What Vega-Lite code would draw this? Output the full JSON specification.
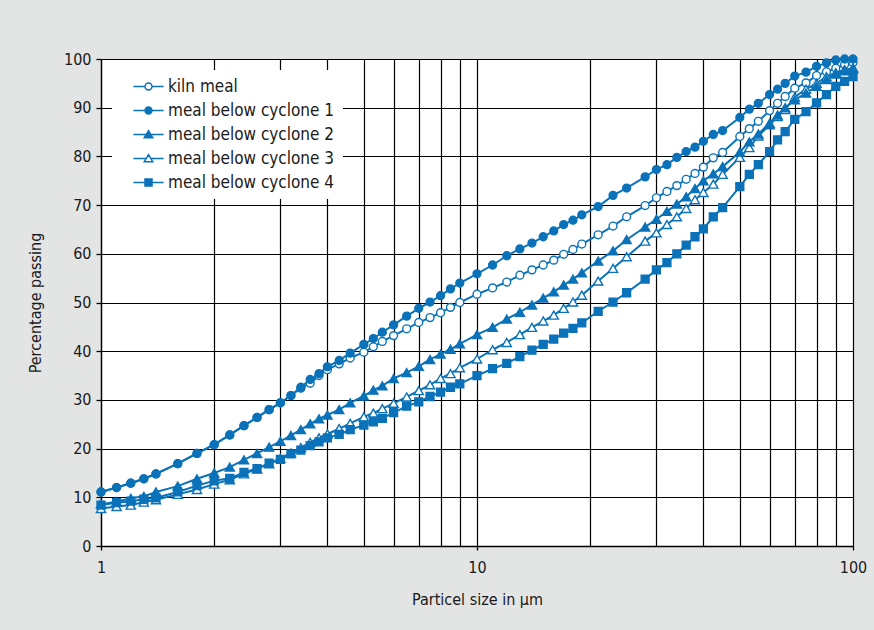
{
  "$schema": "https://vega.github.io/schema/vega-lite/v6.json",
  "width": 752,
  "height": 487,
  "autosize": {"type": "none"},
  "padding": {"left": 101, "top": 59, "right": 21, "bottom": 84},
  "background": "#e3e4e4",
  "config": {
    "view": {"fill": "white", "stroke": null},
    "font": "DejaVu Sans Condensed, sans-serif",
    "axis": {
      "domainColor": "#000000",
      "domainWidth": 1.3,
      "gridColor": "#000000",
      "gridWidth": 1.2,
      "gridOpacity": 1,
      "tickColor": "#000000",
      "tickWidth": 1.3,
      "labelColor": "#1a1a1a",
      "labelFontSize": 16,
      "titleColor": "#1a1a1a",
      "titleFontSize": 16,
      "titleFontWeight": "normal",
      "labelFont": "DejaVu Sans Condensed, sans-serif",
      "titleFont": "DejaVu Sans Condensed, sans-serif"
    },
    "legend": {
      "title": null,
      "orient": "none",
      "legendX": 11,
      "legendY": 11,
      "fillColor": "white",
      "padding": 8,
      "labelFontSize": 17,
      "labelLimit": 400,
      "labelColor": "#1a1a1a",
      "labelFont": "DejaVu Sans Condensed, sans-serif",
      "symbolStrokeColor": "#0a72b9",
      "symbolStrokeWidth": 1.5,
      "symbolSize": 49,
      "symbolOffset": 20,
      "labelOffset": 11,
      "rowPadding": 6
    }
  },
  "datasets": {
    "rows": [
      {"series": "kiln meal", "size": 1, "pct": 11.1},
      {"series": "kiln meal", "size": 1.1, "pct": 12.0},
      {"series": "kiln meal", "size": 1.2, "pct": 12.9},
      {"series": "kiln meal", "size": 1.3, "pct": 13.8},
      {"series": "kiln meal", "size": 1.4, "pct": 14.8},
      {"series": "kiln meal", "size": 1.6, "pct": 16.9},
      {"series": "kiln meal", "size": 1.8, "pct": 19.0},
      {"series": "kiln meal", "size": 2, "pct": 20.8},
      {"series": "kiln meal", "size": 2.2, "pct": 22.8},
      {"series": "kiln meal", "size": 2.4, "pct": 24.7},
      {"series": "kiln meal", "size": 2.6, "pct": 26.4},
      {"series": "kiln meal", "size": 2.8, "pct": 28.0},
      {"series": "kiln meal", "size": 3, "pct": 29.4},
      {"series": "kiln meal", "size": 3.2, "pct": 30.9},
      {"series": "kiln meal", "size": 3.4, "pct": 32.4},
      {"series": "kiln meal", "size": 3.6, "pct": 33.4},
      {"series": "kiln meal", "size": 3.8, "pct": 35.0},
      {"series": "kiln meal", "size": 4, "pct": 36.2},
      {"series": "kiln meal", "size": 4.3, "pct": 37.4},
      {"series": "kiln meal", "size": 4.6, "pct": 38.6},
      {"series": "kiln meal", "size": 5, "pct": 39.8},
      {"series": "kiln meal", "size": 5.3, "pct": 40.9},
      {"series": "kiln meal", "size": 5.6, "pct": 42.0},
      {"series": "kiln meal", "size": 6, "pct": 43.2},
      {"series": "kiln meal", "size": 6.5, "pct": 44.6},
      {"series": "kiln meal", "size": 7, "pct": 45.9},
      {"series": "kiln meal", "size": 7.5, "pct": 46.9},
      {"series": "kiln meal", "size": 8, "pct": 47.9},
      {"series": "kiln meal", "size": 8.5, "pct": 49.0},
      {"series": "kiln meal", "size": 9, "pct": 50.0},
      {"series": "kiln meal", "size": 10, "pct": 51.7},
      {"series": "kiln meal", "size": 11, "pct": 53.0},
      {"series": "kiln meal", "size": 12, "pct": 54.2},
      {"series": "kiln meal", "size": 13, "pct": 55.6},
      {"series": "kiln meal", "size": 14, "pct": 56.7},
      {"series": "kiln meal", "size": 15, "pct": 57.7},
      {"series": "kiln meal", "size": 16, "pct": 58.7},
      {"series": "kiln meal", "size": 17, "pct": 59.9},
      {"series": "kiln meal", "size": 18, "pct": 60.9},
      {"series": "kiln meal", "size": 19, "pct": 62.0},
      {"series": "kiln meal", "size": 21, "pct": 63.9},
      {"series": "kiln meal", "size": 23, "pct": 65.7},
      {"series": "kiln meal", "size": 25, "pct": 67.6},
      {"series": "kiln meal", "size": 28, "pct": 69.9},
      {"series": "kiln meal", "size": 30, "pct": 71.5},
      {"series": "kiln meal", "size": 32, "pct": 72.8},
      {"series": "kiln meal", "size": 34, "pct": 74.0},
      {"series": "kiln meal", "size": 36, "pct": 75.3},
      {"series": "kiln meal", "size": 38, "pct": 76.5},
      {"series": "kiln meal", "size": 40, "pct": 77.8},
      {"series": "kiln meal", "size": 42.5, "pct": 79.7},
      {"series": "kiln meal", "size": 45, "pct": 80.8},
      {"series": "kiln meal", "size": 50, "pct": 84.1},
      {"series": "kiln meal", "size": 53, "pct": 85.7},
      {"series": "kiln meal", "size": 56, "pct": 87.2},
      {"series": "kiln meal", "size": 60, "pct": 89.4},
      {"series": "kiln meal", "size": 63, "pct": 90.9},
      {"series": "kiln meal", "size": 66, "pct": 92.3},
      {"series": "kiln meal", "size": 70, "pct": 94.0},
      {"series": "kiln meal", "size": 75, "pct": 95.1},
      {"series": "kiln meal", "size": 80, "pct": 96.6},
      {"series": "kiln meal", "size": 85, "pct": 97.4},
      {"series": "kiln meal", "size": 90, "pct": 98.1},
      {"series": "kiln meal", "size": 95, "pct": 98.9},
      {"series": "kiln meal", "size": 100, "pct": 99.3},

      {"series": "meal below cyclone 4", "size": 1, "pct": 8.4},
      {"series": "meal below cyclone 4", "size": 1.1, "pct": 8.9},
      {"series": "meal below cyclone 4", "size": 1.2, "pct": 9.2},
      {"series": "meal below cyclone 4", "size": 1.3, "pct": 9.6},
      {"series": "meal below cyclone 4", "size": 1.4, "pct": 9.9},
      {"series": "meal below cyclone 4", "size": 1.6, "pct": 11.1},
      {"series": "meal below cyclone 4", "size": 1.8, "pct": 12.4},
      {"series": "meal below cyclone 4", "size": 2, "pct": 13.4},
      {"series": "meal below cyclone 4", "size": 2.2, "pct": 13.9},
      {"series": "meal below cyclone 4", "size": 2.4, "pct": 15.1},
      {"series": "meal below cyclone 4", "size": 2.6, "pct": 15.9},
      {"series": "meal below cyclone 4", "size": 2.8, "pct": 17.0},
      {"series": "meal below cyclone 4", "size": 3, "pct": 17.8},
      {"series": "meal below cyclone 4", "size": 3.2, "pct": 18.9},
      {"series": "meal below cyclone 4", "size": 3.4, "pct": 19.7},
      {"series": "meal below cyclone 4", "size": 3.6, "pct": 20.6},
      {"series": "meal below cyclone 4", "size": 3.8, "pct": 21.4},
      {"series": "meal below cyclone 4", "size": 4, "pct": 22.2},
      {"series": "meal below cyclone 4", "size": 4.3, "pct": 22.9},
      {"series": "meal below cyclone 4", "size": 4.6, "pct": 23.9},
      {"series": "meal below cyclone 4", "size": 5, "pct": 24.8},
      {"series": "meal below cyclone 4", "size": 5.3, "pct": 25.5},
      {"series": "meal below cyclone 4", "size": 5.6, "pct": 26.2},
      {"series": "meal below cyclone 4", "size": 6, "pct": 27.4},
      {"series": "meal below cyclone 4", "size": 6.5, "pct": 28.7},
      {"series": "meal below cyclone 4", "size": 7, "pct": 29.6},
      {"series": "meal below cyclone 4", "size": 7.5, "pct": 30.7},
      {"series": "meal below cyclone 4", "size": 8, "pct": 31.6},
      {"series": "meal below cyclone 4", "size": 8.5, "pct": 32.6},
      {"series": "meal below cyclone 4", "size": 9, "pct": 33.3},
      {"series": "meal below cyclone 4", "size": 10, "pct": 35.0},
      {"series": "meal below cyclone 4", "size": 11, "pct": 36.4},
      {"series": "meal below cyclone 4", "size": 12, "pct": 37.5},
      {"series": "meal below cyclone 4", "size": 13, "pct": 38.9},
      {"series": "meal below cyclone 4", "size": 14, "pct": 40.2},
      {"series": "meal below cyclone 4", "size": 15, "pct": 41.4},
      {"series": "meal below cyclone 4", "size": 16, "pct": 42.5},
      {"series": "meal below cyclone 4", "size": 17, "pct": 43.7},
      {"series": "meal below cyclone 4", "size": 18, "pct": 44.7},
      {"series": "meal below cyclone 4", "size": 19, "pct": 45.8},
      {"series": "meal below cyclone 4", "size": 21, "pct": 48.2},
      {"series": "meal below cyclone 4", "size": 23, "pct": 50.1},
      {"series": "meal below cyclone 4", "size": 25, "pct": 52.0},
      {"series": "meal below cyclone 4", "size": 28, "pct": 54.8},
      {"series": "meal below cyclone 4", "size": 30, "pct": 56.7},
      {"series": "meal below cyclone 4", "size": 32, "pct": 58.2},
      {"series": "meal below cyclone 4", "size": 34, "pct": 60.0},
      {"series": "meal below cyclone 4", "size": 36, "pct": 61.8},
      {"series": "meal below cyclone 4", "size": 38, "pct": 63.5},
      {"series": "meal below cyclone 4", "size": 40, "pct": 65.1},
      {"series": "meal below cyclone 4", "size": 42.5, "pct": 67.6},
      {"series": "meal below cyclone 4", "size": 45, "pct": 69.5},
      {"series": "meal below cyclone 4", "size": 50, "pct": 73.8},
      {"series": "meal below cyclone 4", "size": 53, "pct": 76.3},
      {"series": "meal below cyclone 4", "size": 56, "pct": 78.3},
      {"series": "meal below cyclone 4", "size": 60, "pct": 81.0},
      {"series": "meal below cyclone 4", "size": 63, "pct": 83.4},
      {"series": "meal below cyclone 4", "size": 66, "pct": 85.1},
      {"series": "meal below cyclone 4", "size": 70, "pct": 87.6},
      {"series": "meal below cyclone 4", "size": 75, "pct": 89.2},
      {"series": "meal below cyclone 4", "size": 80, "pct": 91.0},
      {"series": "meal below cyclone 4", "size": 85, "pct": 92.7},
      {"series": "meal below cyclone 4", "size": 90, "pct": 94.4},
      {"series": "meal below cyclone 4", "size": 95, "pct": 95.4},
      {"series": "meal below cyclone 4", "size": 100, "pct": 96.4},

      {"series": "meal below cyclone 3", "size": 1, "pct": 7.7},
      {"series": "meal below cyclone 3", "size": 1.1, "pct": 8.1},
      {"series": "meal below cyclone 3", "size": 1.2, "pct": 8.4},
      {"series": "meal below cyclone 3", "size": 1.3, "pct": 9.0},
      {"series": "meal below cyclone 3", "size": 1.4, "pct": 9.5},
      {"series": "meal below cyclone 3", "size": 1.6, "pct": 10.6},
      {"series": "meal below cyclone 3", "size": 1.8, "pct": 11.6},
      {"series": "meal below cyclone 3", "size": 2, "pct": 12.7},
      {"series": "meal below cyclone 3", "size": 2.2, "pct": 13.6},
      {"series": "meal below cyclone 3", "size": 2.4, "pct": 14.8},
      {"series": "meal below cyclone 3", "size": 2.6, "pct": 15.8},
      {"series": "meal below cyclone 3", "size": 2.8, "pct": 16.9},
      {"series": "meal below cyclone 3", "size": 3, "pct": 18.0},
      {"series": "meal below cyclone 3", "size": 3.2, "pct": 19.1},
      {"series": "meal below cyclone 3", "size": 3.4, "pct": 20.2},
      {"series": "meal below cyclone 3", "size": 3.6, "pct": 21.3},
      {"series": "meal below cyclone 3", "size": 3.8, "pct": 22.2},
      {"series": "meal below cyclone 3", "size": 4, "pct": 23.0},
      {"series": "meal below cyclone 3", "size": 4.3, "pct": 24.1},
      {"series": "meal below cyclone 3", "size": 4.6, "pct": 25.2},
      {"series": "meal below cyclone 3", "size": 5, "pct": 26.5},
      {"series": "meal below cyclone 3", "size": 5.3, "pct": 27.3},
      {"series": "meal below cyclone 3", "size": 5.6, "pct": 28.2},
      {"series": "meal below cyclone 3", "size": 6, "pct": 29.3},
      {"series": "meal below cyclone 3", "size": 6.5, "pct": 30.6},
      {"series": "meal below cyclone 3", "size": 7, "pct": 31.9},
      {"series": "meal below cyclone 3", "size": 7.5, "pct": 33.1},
      {"series": "meal below cyclone 3", "size": 8, "pct": 34.4},
      {"series": "meal below cyclone 3", "size": 8.5, "pct": 35.4},
      {"series": "meal below cyclone 3", "size": 9, "pct": 36.6},
      {"series": "meal below cyclone 3", "size": 10, "pct": 38.4},
      {"series": "meal below cyclone 3", "size": 11, "pct": 40.3},
      {"series": "meal below cyclone 3", "size": 12, "pct": 41.8},
      {"series": "meal below cyclone 3", "size": 13, "pct": 43.4},
      {"series": "meal below cyclone 3", "size": 14, "pct": 44.9},
      {"series": "meal below cyclone 3", "size": 15, "pct": 46.2},
      {"series": "meal below cyclone 3", "size": 16, "pct": 47.4},
      {"series": "meal below cyclone 3", "size": 17, "pct": 48.8},
      {"series": "meal below cyclone 3", "size": 18, "pct": 50.1},
      {"series": "meal below cyclone 3", "size": 19, "pct": 51.5},
      {"series": "meal below cyclone 3", "size": 21, "pct": 54.4},
      {"series": "meal below cyclone 3", "size": 23, "pct": 57.0},
      {"series": "meal below cyclone 3", "size": 25, "pct": 59.4},
      {"series": "meal below cyclone 3", "size": 28, "pct": 62.6},
      {"series": "meal below cyclone 3", "size": 30, "pct": 64.3},
      {"series": "meal below cyclone 3", "size": 32, "pct": 66.0},
      {"series": "meal below cyclone 3", "size": 34, "pct": 67.6},
      {"series": "meal below cyclone 3", "size": 36, "pct": 69.3},
      {"series": "meal below cyclone 3", "size": 38, "pct": 71.1},
      {"series": "meal below cyclone 3", "size": 40, "pct": 72.6},
      {"series": "meal below cyclone 3", "size": 42.5, "pct": 74.3},
      {"series": "meal below cyclone 3", "size": 45, "pct": 76.3},
      {"series": "meal below cyclone 3", "size": 50, "pct": 79.8},
      {"series": "meal below cyclone 3", "size": 53, "pct": 81.8},
      {"series": "meal below cyclone 3", "size": 56, "pct": 84.2},
      {"series": "meal below cyclone 3", "size": 60, "pct": 86.5},
      {"series": "meal below cyclone 3", "size": 63, "pct": 88.2},
      {"series": "meal below cyclone 3", "size": 66, "pct": 89.6},
      {"series": "meal below cyclone 3", "size": 70, "pct": 92.2},
      {"series": "meal below cyclone 3", "size": 75, "pct": 93.8},
      {"series": "meal below cyclone 3", "size": 80, "pct": 95.0},
      {"series": "meal below cyclone 3", "size": 85, "pct": 96.4},
      {"series": "meal below cyclone 3", "size": 90, "pct": 97.2},
      {"series": "meal below cyclone 3", "size": 95, "pct": 97.8},
      {"series": "meal below cyclone 3", "size": 100, "pct": 98.0},

      {"series": "meal below cyclone 2", "size": 1, "pct": 8.6},
      {"series": "meal below cyclone 2", "size": 1.1, "pct": 9.1},
      {"series": "meal below cyclone 2", "size": 1.2, "pct": 9.8},
      {"series": "meal below cyclone 2", "size": 1.3, "pct": 10.2},
      {"series": "meal below cyclone 2", "size": 1.4, "pct": 11.1},
      {"series": "meal below cyclone 2", "size": 1.6, "pct": 12.3},
      {"series": "meal below cyclone 2", "size": 1.8, "pct": 13.8},
      {"series": "meal below cyclone 2", "size": 2, "pct": 15.0},
      {"series": "meal below cyclone 2", "size": 2.2, "pct": 16.2},
      {"series": "meal below cyclone 2", "size": 2.4, "pct": 17.7},
      {"series": "meal below cyclone 2", "size": 2.6, "pct": 19.0},
      {"series": "meal below cyclone 2", "size": 2.8, "pct": 20.3},
      {"series": "meal below cyclone 2", "size": 3, "pct": 21.5},
      {"series": "meal below cyclone 2", "size": 3.2, "pct": 22.7},
      {"series": "meal below cyclone 2", "size": 3.4, "pct": 23.9},
      {"series": "meal below cyclone 2", "size": 3.6, "pct": 25.1},
      {"series": "meal below cyclone 2", "size": 3.8, "pct": 26.1},
      {"series": "meal below cyclone 2", "size": 4, "pct": 26.9},
      {"series": "meal below cyclone 2", "size": 4.3, "pct": 28.0},
      {"series": "meal below cyclone 2", "size": 4.6, "pct": 29.4},
      {"series": "meal below cyclone 2", "size": 5, "pct": 30.8},
      {"series": "meal below cyclone 2", "size": 5.3, "pct": 32.0},
      {"series": "meal below cyclone 2", "size": 5.6, "pct": 32.9},
      {"series": "meal below cyclone 2", "size": 6, "pct": 34.4},
      {"series": "meal below cyclone 2", "size": 6.5, "pct": 35.6},
      {"series": "meal below cyclone 2", "size": 7, "pct": 36.9},
      {"series": "meal below cyclone 2", "size": 7.5, "pct": 38.3},
      {"series": "meal below cyclone 2", "size": 8, "pct": 39.4},
      {"series": "meal below cyclone 2", "size": 8.5, "pct": 40.4},
      {"series": "meal below cyclone 2", "size": 9, "pct": 41.5},
      {"series": "meal below cyclone 2", "size": 10, "pct": 43.4},
      {"series": "meal below cyclone 2", "size": 11, "pct": 44.9},
      {"series": "meal below cyclone 2", "size": 12, "pct": 46.6},
      {"series": "meal below cyclone 2", "size": 13, "pct": 48.0},
      {"series": "meal below cyclone 2", "size": 14, "pct": 49.5},
      {"series": "meal below cyclone 2", "size": 15, "pct": 50.9},
      {"series": "meal below cyclone 2", "size": 16, "pct": 52.2},
      {"series": "meal below cyclone 2", "size": 17, "pct": 53.6},
      {"series": "meal below cyclone 2", "size": 18, "pct": 54.8},
      {"series": "meal below cyclone 2", "size": 19, "pct": 56.1},
      {"series": "meal below cyclone 2", "size": 21, "pct": 58.5},
      {"series": "meal below cyclone 2", "size": 23, "pct": 60.6},
      {"series": "meal below cyclone 2", "size": 25, "pct": 62.9},
      {"series": "meal below cyclone 2", "size": 28, "pct": 65.5},
      {"series": "meal below cyclone 2", "size": 30, "pct": 67.1},
      {"series": "meal below cyclone 2", "size": 32, "pct": 68.7},
      {"series": "meal below cyclone 2", "size": 34, "pct": 70.2},
      {"series": "meal below cyclone 2", "size": 36, "pct": 71.7},
      {"series": "meal below cyclone 2", "size": 38, "pct": 73.4},
      {"series": "meal below cyclone 2", "size": 40, "pct": 75.0},
      {"series": "meal below cyclone 2", "size": 42.5, "pct": 76.4},
      {"series": "meal below cyclone 2", "size": 45, "pct": 77.9},
      {"series": "meal below cyclone 2", "size": 50, "pct": 80.9},
      {"series": "meal below cyclone 2", "size": 53, "pct": 83.0},
      {"series": "meal below cyclone 2", "size": 56, "pct": 84.6},
      {"series": "meal below cyclone 2", "size": 60, "pct": 86.8},
      {"series": "meal below cyclone 2", "size": 63, "pct": 88.5},
      {"series": "meal below cyclone 2", "size": 66, "pct": 90.0},
      {"series": "meal below cyclone 2", "size": 70, "pct": 91.6},
      {"series": "meal below cyclone 2", "size": 75, "pct": 93.0},
      {"series": "meal below cyclone 2", "size": 80, "pct": 94.4},
      {"series": "meal below cyclone 2", "size": 85, "pct": 95.8},
      {"series": "meal below cyclone 2", "size": 90, "pct": 96.9},
      {"series": "meal below cyclone 2", "size": 95, "pct": 97.6},
      {"series": "meal below cyclone 2", "size": 100, "pct": 98.2},

      {"series": "meal below cyclone 1", "size": 1, "pct": 11.1},
      {"series": "meal below cyclone 1", "size": 1.1, "pct": 12.0},
      {"series": "meal below cyclone 1", "size": 1.2, "pct": 12.9},
      {"series": "meal below cyclone 1", "size": 1.3, "pct": 13.8},
      {"series": "meal below cyclone 1", "size": 1.4, "pct": 14.8},
      {"series": "meal below cyclone 1", "size": 1.6, "pct": 16.9},
      {"series": "meal below cyclone 1", "size": 1.8, "pct": 19.0},
      {"series": "meal below cyclone 1", "size": 2, "pct": 20.8},
      {"series": "meal below cyclone 1", "size": 2.2, "pct": 22.8},
      {"series": "meal below cyclone 1", "size": 2.4, "pct": 24.7},
      {"series": "meal below cyclone 1", "size": 2.6, "pct": 26.4},
      {"series": "meal below cyclone 1", "size": 2.8, "pct": 28.0},
      {"series": "meal below cyclone 1", "size": 3, "pct": 29.4},
      {"series": "meal below cyclone 1", "size": 3.2, "pct": 30.9},
      {"series": "meal below cyclone 1", "size": 3.4, "pct": 32.6},
      {"series": "meal below cyclone 1", "size": 3.6, "pct": 34.2},
      {"series": "meal below cyclone 1", "size": 3.8, "pct": 35.4},
      {"series": "meal below cyclone 1", "size": 4, "pct": 36.8},
      {"series": "meal below cyclone 1", "size": 4.3, "pct": 38.1},
      {"series": "meal below cyclone 1", "size": 4.6, "pct": 39.6},
      {"series": "meal below cyclone 1", "size": 5, "pct": 41.4},
      {"series": "meal below cyclone 1", "size": 5.3, "pct": 42.6},
      {"series": "meal below cyclone 1", "size": 5.6, "pct": 43.9},
      {"series": "meal below cyclone 1", "size": 6, "pct": 45.4},
      {"series": "meal below cyclone 1", "size": 6.5, "pct": 47.2},
      {"series": "meal below cyclone 1", "size": 7, "pct": 48.8},
      {"series": "meal below cyclone 1", "size": 7.5, "pct": 50.1},
      {"series": "meal below cyclone 1", "size": 8, "pct": 51.4},
      {"series": "meal below cyclone 1", "size": 8.5, "pct": 52.8},
      {"series": "meal below cyclone 1", "size": 9, "pct": 54.0},
      {"series": "meal below cyclone 1", "size": 10, "pct": 55.9},
      {"series": "meal below cyclone 1", "size": 11, "pct": 57.7},
      {"series": "meal below cyclone 1", "size": 12, "pct": 59.6},
      {"series": "meal below cyclone 1", "size": 13, "pct": 61.0},
      {"series": "meal below cyclone 1", "size": 14, "pct": 62.2},
      {"series": "meal below cyclone 1", "size": 15, "pct": 63.5},
      {"series": "meal below cyclone 1", "size": 16, "pct": 64.7},
      {"series": "meal below cyclone 1", "size": 17, "pct": 66.0},
      {"series": "meal below cyclone 1", "size": 18, "pct": 66.9},
      {"series": "meal below cyclone 1", "size": 19, "pct": 68.0},
      {"series": "meal below cyclone 1", "size": 21, "pct": 69.7},
      {"series": "meal below cyclone 1", "size": 23, "pct": 72.0},
      {"series": "meal below cyclone 1", "size": 25, "pct": 73.5},
      {"series": "meal below cyclone 1", "size": 28, "pct": 75.8},
      {"series": "meal below cyclone 1", "size": 30, "pct": 77.3},
      {"series": "meal below cyclone 1", "size": 32, "pct": 78.3},
      {"series": "meal below cyclone 1", "size": 34, "pct": 79.8},
      {"series": "meal below cyclone 1", "size": 36, "pct": 81.0},
      {"series": "meal below cyclone 1", "size": 38, "pct": 81.9},
      {"series": "meal below cyclone 1", "size": 40, "pct": 83.1},
      {"series": "meal below cyclone 1", "size": 42.5, "pct": 84.5},
      {"series": "meal below cyclone 1", "size": 45, "pct": 85.3},
      {"series": "meal below cyclone 1", "size": 50, "pct": 88.0},
      {"series": "meal below cyclone 1", "size": 53, "pct": 89.7},
      {"series": "meal below cyclone 1", "size": 56, "pct": 90.9},
      {"series": "meal below cyclone 1", "size": 60, "pct": 92.7},
      {"series": "meal below cyclone 1", "size": 63, "pct": 93.8},
      {"series": "meal below cyclone 1", "size": 66, "pct": 95.0},
      {"series": "meal below cyclone 1", "size": 70, "pct": 96.5},
      {"series": "meal below cyclone 1", "size": 75, "pct": 97.3},
      {"series": "meal below cyclone 1", "size": 80, "pct": 98.5},
      {"series": "meal below cyclone 1", "size": 85, "pct": 99.2},
      {"series": "meal below cyclone 1", "size": 90, "pct": 99.8},
      {"series": "meal below cyclone 1", "size": 95, "pct": 100},
      {"series": "meal below cyclone 1", "size": 100, "pct": 100}
    ]
  },
  "data": {"name": "rows"},
  "encoding": {
    "x": {
      "field": "size",
      "type": "quantitative",
      "title": "Particel size in µm",
      "scale": {"type": "log", "domain": [1, 100], "nice": false},
      "axis": {
        "values": [1, 2, 3, 4, 5, 6, 7, 8, 9, 10, 20, 30, 40, 50, 60, 70, 80, 90, 100],
        "labelExpr": "indexof([1, 10, 100], datum.value) >= 0 ? format(datum.value, 'd') : ''",
        "labelOverlap": false,
        "labelFlush": false,
        "tickSize": 4,
        "tickOpacity": {"condition": {"test": "indexof([1, 10, 100], datum.value) >= 0", "value": 1}, "value": 0},
        "labelPadding": 9,
        "titlePadding": 16
      }
    },
    "y": {
      "field": "pct",
      "type": "quantitative",
      "title": "Percentage passing",
      "scale": {"domain": [0, 100], "nice": false},
      "axis": {
        "values": [0, 10, 20, 30, 40, 50, 60, 70, 80, 90, 100],
        "tickSize": 5,
        "labelPadding": 5,
        "titlePadding": 20
      }
    },
    "fill": {
      "field": "series",
      "type": "nominal",
      "title": null,
      "scale": {
        "domain": ["kiln meal", "meal below cyclone 1", "meal below cyclone 2", "meal below cyclone 3", "meal below cyclone 4"],
        "range": ["#ffffff", "#0a72b9", "#0a72b9", "#ffffff", "#0a72b9"]
      },
      "legend": {
        "symbolType": {"expr": "datum.value === 'kiln meal' || datum.value === 'meal below cyclone 1' ? 'M-4.3,0H-1M1,0H4.3M1,0A1,1,0,1,1,-1,0A1,1,0,1,1,1,0Z' : (datum.value === 'meal below cyclone 4' ? 'M-4.3,0H-1M1,0H4.3M-1,-1H1V1H-1Z' : 'M-4.3,0H-0.62M0.62,0H4.3M0,-1.1L1.2,0.9H-1.2Z')"},
        "encode": {
          "symbols": {
            "shape": {"value": {"expr": "datum.value === 'kiln meal' || datum.value === 'meal below cyclone 1' ? 'M-4.3,0H-1M1,0H4.3M1,0A1,1,0,1,1,-1,0A1,1,0,1,1,1,0Z' : (datum.value === 'meal below cyclone 4' ? 'M-4.3,0H-1M1,0H4.3M-1,-1H1V1H-1Z' : 'M-4.3,0H-0.62M0.62,0H4.3M0,-1.1L1.2,0.9H-1.2Z')"}},
            "size": {"value": 49},
            "stroke": {"value": "#0a72b9"},
            "strokeWidth": {"value": 1.5}
          }
        }
      }
    }
  },
  "layer": [
    {
      "mark": {"type": "line", "color": "#0a72b9", "strokeWidth": 2},
      "encoding": {"detail": {"field": "series"}, "fill": null}
    },
    {
      "transform": [{"filter": "datum.series === 'kiln meal' || datum.series === 'meal below cyclone 1'"}],
      "mark": {"type": "point", "shape": "circle", "filled": true, "stroke": "#0a72b9", "strokeWidth": 1.4, "opacity": 1, "size": 62}
    },
    {
      "transform": [{"filter": "datum.series === 'meal below cyclone 2' || datum.series === 'meal below cyclone 3'"}],
      "mark": {"type": "point", "shape": "triangle-up", "filled": true, "stroke": "#0a72b9", "strokeWidth": 1.4, "opacity": 1, "size": 85}
    },
    {
      "transform": [{"filter": "datum.series === 'meal below cyclone 4'"}],
      "mark": {"type": "point", "shape": "square", "filled": true, "stroke": "#0a72b9", "strokeWidth": 1.4, "opacity": 1, "size": 62}
    }
  ]
}
